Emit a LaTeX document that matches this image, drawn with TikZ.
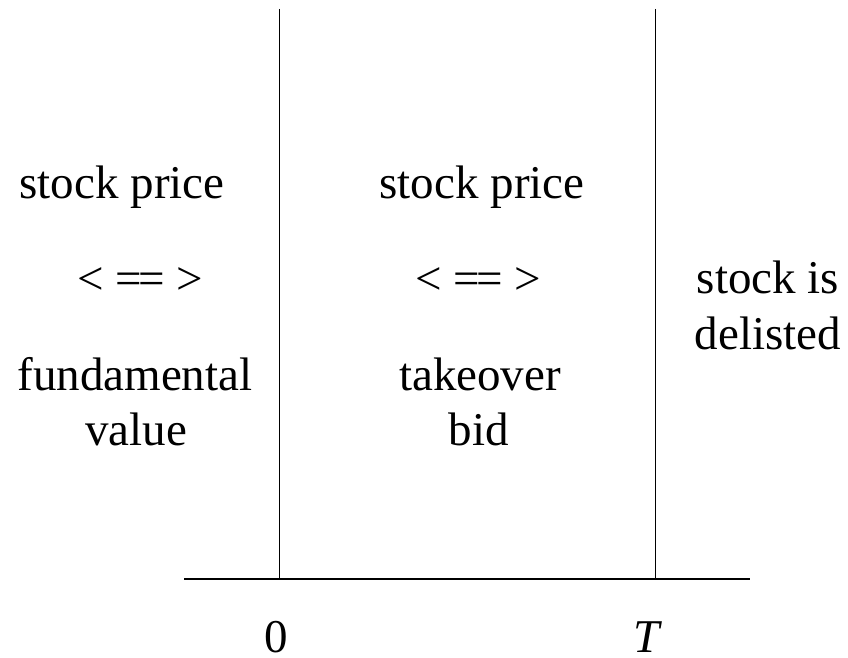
\documentclass[tikz,border=0pt]{standalone}
\usepackage{fontspec}
\setmainfont{Liberation Serif}
% two equals signs set flush against each other
\newcommand{\eqeq}{=\kern-0.075em=}
\begin{document}
\begin{tikzpicture}[x=1pt,y=-1pt,
  lbl/.style={font=\fontsize{47}{55}\selectfont, inner sep=0pt, anchor=base},
  ticklbl/.style={lbl, text depth=0pt},
  divider/.style={line width=1pt, black},
  timeaxis/.style={line width=2.6pt, black}]
\useasboundingbox (0,0) rectangle (848,658);

% time axis and the two dividing instants
\coordinate (zeroTop) at (279,9);
\coordinate (zeroBot) at (279,579);
\coordinate (endTop) at (655.5,9);
\coordinate (endBot) at (655.5,579);
\coordinate (axisL) at (184,579);
\coordinate (axisR) at (750,579);
\draw[divider] (zeroTop) -- (zeroBot);
\draw[divider] (endTop) -- (endBot);
\draw[timeaxis] (axisL) -- (axisR);

% before time 0
\node[lbl] (pre1) at (122,198) {stock price};
\node[lbl] (pre2) at (140,294) {< \eqeq{} >};
\node[lbl] (pre3) at (135,390) {fundamental};
\node[lbl] (pre4) at (136,445) {value};

% between 0 and T
\node[lbl] (mid1) at (482,198) {stock price};
\node[lbl] (mid2) at (478,294) {< \eqeq{} >};
\node[lbl] (mid3) at (480,390) {takeover};
\node[lbl] (mid4) at (479,445) {bid};

% after T
\node[lbl] (post1) at (768,293) {stock is};
\node[lbl] (post2) at (768,349) {delisted};

% axis labels
\node[ticklbl] (tzero) at (276,652) {0};
\node[ticklbl] (tend) at (648,652) {\textit{T}};
\end{tikzpicture}
\end{document}
